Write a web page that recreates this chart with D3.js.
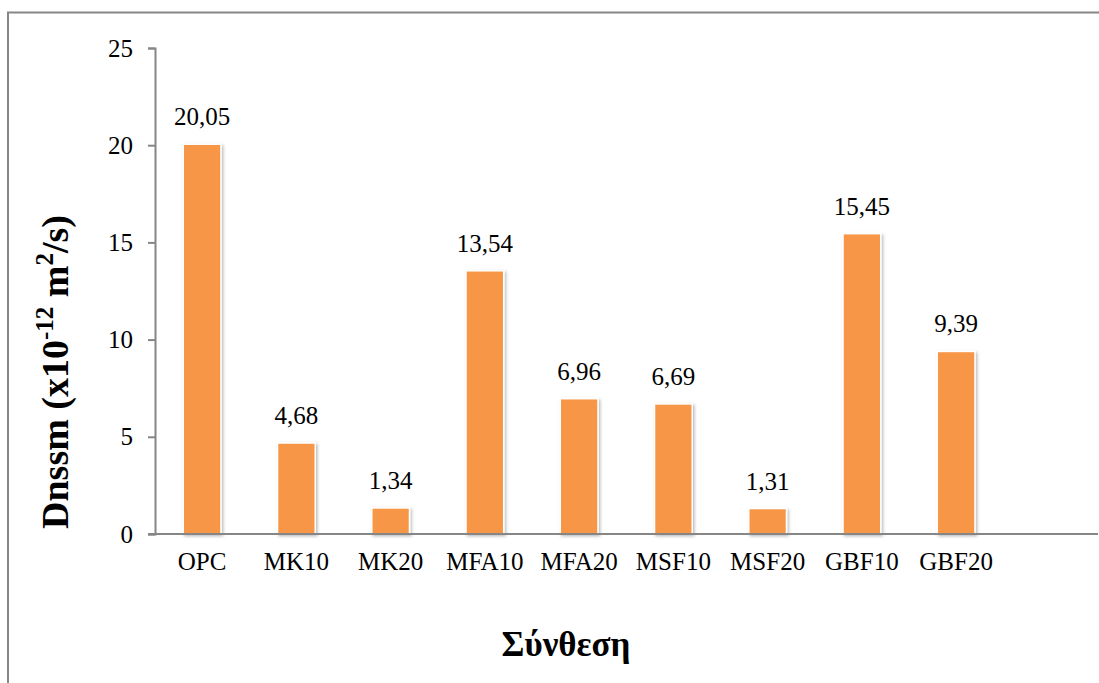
<!DOCTYPE html>
<html><head><meta charset="utf-8">
<script src="https://cdn.jsdelivr.net/npm/d3@7"></script>
<style>html,body{margin:0;padding:0;background:#fff;}svg{display:block;}</style>
</head><body>
<svg id="c" width="1099" height="683"></svg>
<script>
const categories = ["OPC","MK10","MK20","MFA10","MFA20","MSF10","MSF20","GBF10","GBF20"];
const values = [20.05, 4.68, 1.34, 13.54, 6.96, 6.69, 1.31, 15.45, 9.39];
const yTicks = [0, 5, 10, 15, 20, 25];

const svg = d3.select("#c");
const font = "'Liberation Serif','Times New Roman',serif";
const axisColor = "#868686";

const defs = svg.append("defs");
const f = defs.append("filter").attr("id","sh").attr("x","-20%").attr("y","-20%").attr("width","150%").attr("height","150%");
f.append("feDropShadow").attr("dx",1.5).attr("dy",1.5).attr("stdDeviation",1.5).attr("flood-color","#000").attr("flood-opacity",0.28);

// frame
svg.append("rect").attr("x",8).attr("y",12.5).attr("width",1120).attr("height",700)
  .attr("fill","none").attr("stroke",axisColor).attr("stroke-width",2);

const x0 = 155, step = 94.25;
const x = d3.scaleBand().domain(categories).range([x0, x0 + step*categories.length]).paddingInner(0.6).paddingOuter(0.3);
const y = d3.scaleLinear().domain([0, 25]).range([534, 48]);

// bars
svg.append("g").selectAll("rect").data(values).join("rect")
  .attr("x",(d,i)=>x(categories[i]))
  .attr("y",d=>y(d))
  .attr("width",x.bandwidth())
  .attr("height",d=>y(0)-y(d))
  .attr("fill","#F79646")
  .attr("stroke","#fff").attr("stroke-width",1.5)
  .attr("filter","url(#sh)");

// value labels
svg.append("g").selectAll("text").data(values).join("text")
  .attr("x",(d,i)=>x(categories[i])+x.bandwidth()/2)
  .attr("y",d=>y(d)-19)
  .attr("text-anchor","middle")
  .attr("font-family",font).attr("font-size",25).attr("fill","#000")
  .text(d=>d.toFixed(2).replace(".",","));

// y axis
const ya = svg.append("g").attr("transform",`translate(${x0},0)`)
  .call(d3.axisLeft(y).tickValues(yTicks).tickSize(7).tickPadding(15).tickFormat(d=>d));
ya.select(".domain").attr("stroke",axisColor).attr("stroke-width",2);
ya.selectAll(".tick line").attr("stroke",axisColor).attr("stroke-width",2);
ya.selectAll(".tick text").attr("font-family",font).attr("font-size",25).attr("fill","#000");

// x axis
const xa = svg.append("g").attr("transform",`translate(0,${y(0)})`)
  .call(d3.axisBottom(x).tickSize(0).tickPadding(18));
xa.select(".domain").remove();
xa.selectAll(".tick text").attr("font-family",font).attr("font-size",25).attr("fill","#000");
svg.append("line").attr("x1",x0-7).attr("x2",1098).attr("y1",y(0)).attr("y2",y(0))
  .attr("stroke",axisColor).attr("stroke-width",2);

// y title
const yt = svg.append("text").attr("transform","translate(68,372) rotate(-90)")
  .attr("text-anchor","middle").attr("font-family",font).attr("font-size",38).attr("font-weight","bold").attr("fill","#000");
yt.append("tspan").text("Dnssm (x10");
yt.append("tspan").attr("font-size",25).attr("dy",-15).text("-12");
yt.append("tspan").attr("dy",15).text(" m");
yt.append("tspan").attr("font-size",25).attr("dy",-15).text("2");
yt.append("tspan").attr("dy",15).text("/s)");

// x title
svg.append("text").attr("x",566).attr("y",656).attr("text-anchor","middle")
  .attr("font-family",font).attr("font-size",35).attr("font-weight","bold").attr("fill","#000")
  .text("Σύνθεση");
</script>
</body></html>
